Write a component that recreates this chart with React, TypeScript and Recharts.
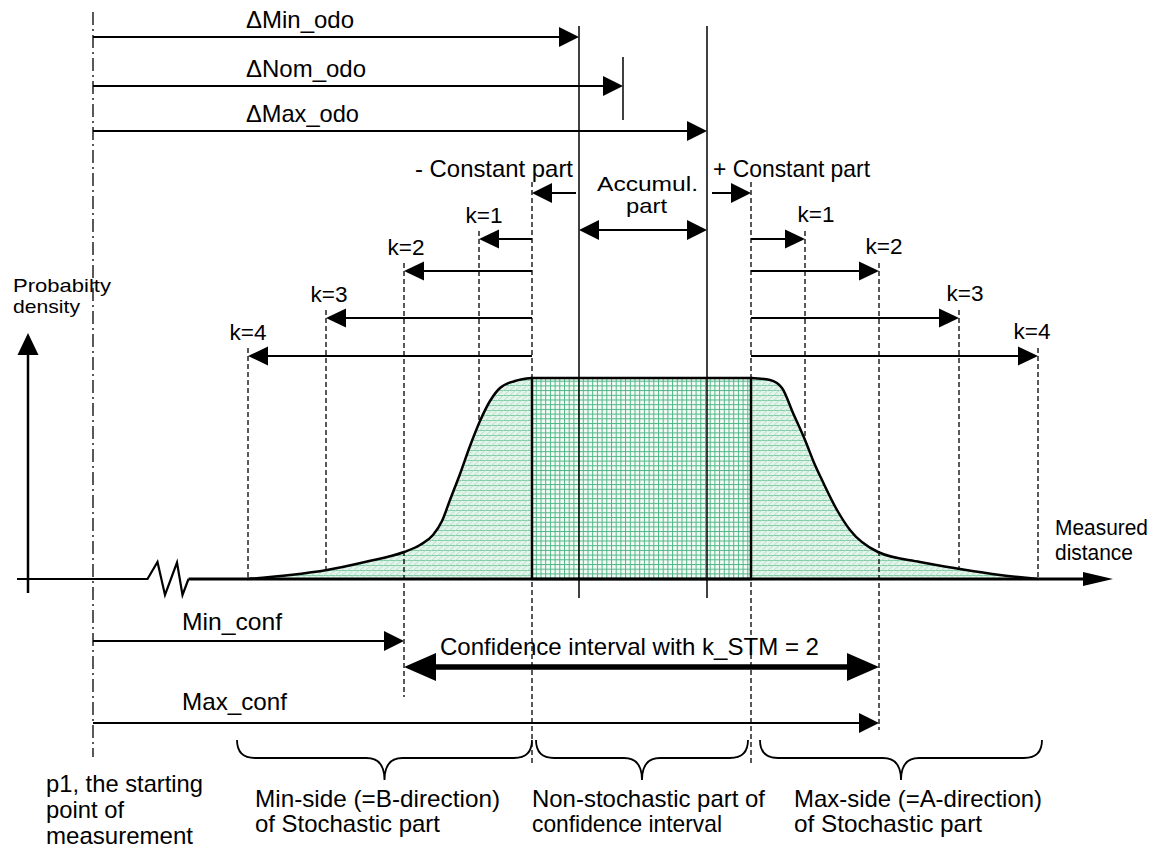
import React from 'react';
import { ComposedChart, Area, Line, XAxis, YAxis, ReferenceLine, ReferenceArea, ReferenceDot } from 'recharts';

const W = 1155;
const H = 850;
const FONT = '"Liberation Sans", Arial, Helvetica, sans-serif';

// x = measured distance (p1 = 0), y = probability density (baseline = 0)
const leftTailX = [15.4, 19.7, 23.4, 27.2, 31.1, 32.7, 34.0, 34.9, 35.7, 36.7, 37.7, 38.7, 39.7, 40.7, 42.2, 43.9];
const leftTailY = [0, 0.4, 0.9, 1.7, 2.7, 3.4, 4.4, 5.8, 7.9, 10.5, 13.3, 15.8, 17.8, 19.1, 19.8, 20.1];
const rightTailX = [65.8, 67.7, 68.9, 70.0, 71.2, 72.2, 72.9, 74.4, 75.7, 78.5, 82.7, 86.7, 90.7, 94.5];
const rightTailY = [20.1, 19.9, 19.1, 16.6, 13.9, 11.4, 9.9, 6.9, 4.9, 2.7, 1.7, 1.0, 0.4, 0];

const plateau = 20.1;
const constMin = 43.9;
const constMax = 65.8;

const odoNames = ['ΔMin_odo', 'ΔNom_odo', 'ΔMax_odo'];
const odoValues = [48.6, 53.0, 61.4];
const odoRows = [54.2, 49.3, 44.8];

const kNames = ['k=1', 'k=2', 'k=3', 'k=4'];
const kMinSide = [38.6, 31.1, 23.3, 15.5];
const kMaxSide = [71.2, 78.6, 86.6, 94.5];
const kRows = [34.0, 30.8, 26.1, 22.3];
const kMinFoot = [15.5, -11.8, 0.9, 0];
const kMaxFoot = [13.9, -15.1, 1.0, 0];

const kStm = 2;
const confRows = [-6.2, -8.8, -14.4];

// broken axis: left stub and zigzag break
const breakX = [-7.6, 5.45, 6.45, 7.2, 8.4, 8.95, 9.55];
const breakY = [0, 0, 1.7, -1.6, 1.65, -1.6, 0];

const braceSpans = [[14.4, 43.9], [44.3, 65.5], [66.7, 94.9]];
const braceTexts = [
  ['Min-side (=B-direction)', 'of Stochastic part'],
  ['Non-stochastic part of', 'confidence interval'],
  ['Max-side (=A-direction)', 'of Stochastic part'],
];
const p1Text = ['p1, the starting', 'point of', 'measurement'];

const leftTail = leftTailX.map((x, i) => ({ x, y: leftTailY[i] }));
const rightTail = rightTailX.map((x, i) => ({ x, y: rightTailY[i] }));
const breakLine = breakX.map((x, i) => ({ x, y: breakY[i] }));

// text widths (px) measured on the reference, used as textLength
const odoWidths = [108, 120, 113];
const braceWidths = [[245, 185], [233, 190], [248, 188]];
const p1Widths = [157, 78, 147];
const kShiftMin = [0.5, 0.2, 0.3, 0];
const kShiftMax = [1.1, 0.5, 0.6, -0.6];

type ArrowOpt = { w?: number; head?: number; half?: number; start?: boolean; end?: boolean; dash?: string };

const arrowShape = (o: ArrowOpt) => (p: any) => {
  const { x1, y1, x2, y2 } = p;
  const w = o.w ?? 2;
  const L = o.head ?? 20;
  const h = o.half ?? 10;
  const len = Math.hypot(x2 - x1, y2 - y1) || 1;
  const ux = (x2 - x1) / len;
  const uy = (y2 - y1) / len;
  const head = (tx: number, ty: number, d: number) => {
    const bx = tx - d * ux * L;
    const by = ty - d * uy * L;
    return `${tx},${ty} ${bx - uy * h},${by + ux * h} ${bx + uy * h},${by - ux * h}`;
  };
  const sx = o.start ? x1 + ux * (L - 2) : x1;
  const sy = o.start ? y1 + uy * (L - 2) : y1;
  const ex = o.end ? x2 - ux * (L - 2) : x2;
  const ey = o.end ? y2 - uy * (L - 2) : y2;
  return (
    <g>
      <line x1={sx} y1={sy} x2={ex} y2={ey} stroke="#000" strokeWidth={w} strokeDasharray={o.dash} />
      {o.end && <polygon points={head(x2, y2, 1)} fill="#000" />}
      {o.start && <polygon points={head(x1, y1, -1)} fill="#000" />}
    </g>
  );
};

const braceShape = (p: any) => {
  const xl = Math.min(p.x1, p.x2);
  const xr = Math.max(p.x1, p.x2);
  const top = Math.min(p.y1, p.y2);
  const tip = Math.max(p.y1, p.y2);
  const mid = top + (tip - top) * 0.45;
  const xc = (xl + xr) / 2;
  const r = 18;
  const d = `M${xl},${top} Q${xl},${mid} ${xl + r},${mid} L${xc - r},${mid} Q${xc},${mid} ${xc},${tip} ` +
    `Q${xc},${mid} ${xc + r},${mid} L${xr - r},${mid} Q${xr},${mid} ${xr},${top}`;
  return <path d={d} fill="none" stroke="#000" strokeWidth={1.8} />;
};

const textShape = (t: string, size: number, len?: number, anchor = 'start') => (p: any) => (
  <text x={p.cx} y={p.cy} fontSize={size} fontFamily={FONT} textAnchor={anchor}
    textLength={len} lengthAdjust="spacingAndGlyphs" fill="#000">{t}</text>
);

const seg = (key: string, a: [number, number], b: [number, number], o: ArrowOpt) => (
  <ReferenceLine key={key} segment={[{ x: a[0], y: a[1] }, { x: b[0], y: b[1] }]}
    shape={arrowShape(o)} ifOverflow="visible" zIndex={400} />
);

const label = (key: string, x: number, y: number, t: string, size: number, len?: number, anchor = 'start') => (
  <ReferenceDot key={key} x={x} y={y} r={1} ifOverflow="visible" zIndex={600}
    shape={textShape(t, size, len, anchor)} />
);

export default function App() {
  const lines: React.ReactElement[] = [];
  const texts: React.ReactElement[] = [];

  // p1 dash-dot line and solid odo lines
  lines.push(seg('p1', [0, 56.7], [0, -17.8], { w: 1.3, dash: '13 4 2 4' }));
  lines.push(seg('vmin', [odoValues[0], 55.3], [odoValues[0], -1.9], { w: 1.5 }));
  lines.push(seg('vmax', [odoValues[2], 55.3], [odoValues[2], -1.9], { w: 1.5 }));
  lines.push(seg('vnom', [odoValues[1], 52.2], [odoValues[1], 45.9], { w: 1.5 }));
  odoValues.forEach((v, i) => {
    lines.push(seg(`odo${i}`, [0, odoRows[i]], [v, odoRows[i]], { end: true }));
    texts.push(label(`odoT${i}`, 15.3, odoRows[i] + 0.95, odoNames[i], 24, odoWidths[i]));
  });

  // constant / accumulated part
  lines.push(seg('cl', [odoValues[0] - 0.3, 38.6], [constMin, 38.6], { end: true }));
  lines.push(seg('cr', [odoValues[2] + 0.5, 38.6], [constMax, 38.6], { end: true }));
  lines.push(seg('acc', [odoValues[0], 34.9], [odoValues[2], 34.9], { start: true, end: true }));
  lines.push(seg('dmin', [constMin, 39.7], [constMin, -18.6], { w: 1.3, dash: '5 3' }));
  lines.push(seg('dmax', [constMax, 39.7], [constMax, -18.6], { w: 1.3, dash: '5 3' }));
  texts.push(label('cmT', 32.2, 40.2, '- Constant part', 24, 158));
  texts.push(label('cpT', 62.0, 40.2, '+ Constant part', 24, 157));
  texts.push(label('acT1', 50.4, 38.8, 'Accumul.', 21, 101));
  texts.push(label('acT2', 53.3, 36.6, 'part', 21, 41));

  // k intervals on both sides
  kNames.forEach((k, i) => {
    lines.push(seg(`kl${i}`, [constMin, kRows[i]], [kMinSide[i], kRows[i]], { end: true, half: 9.5 }));
    lines.push(seg(`kr${i}`, [constMax, kRows[i]], [kMaxSide[i], kRows[i]], { end: true, half: 9.5 }));
    lines.push(seg(`kld${i}`, [kMinSide[i], kRows[i] + 0.8], [kMinSide[i], kMinFoot[i]], { w: 1.3, dash: '5 3' }));
    lines.push(seg(`krd${i}`, [kMaxSide[i], kRows[i] + 0.8], [kMaxSide[i], kMaxFoot[i]], { w: 1.3, dash: '5 3' }));
    texts.push(label(`klT${i}`, kMinSide[i] + kShiftMin[i], kRows[i] + 1.65, k, 22, 37, 'middle'));
    texts.push(label(`krT${i}`, kMaxSide[i] + kShiftMax[i], kRows[i] + 1.75, k, 22, 37, 'middle'));
  });

  // axes
  lines.push(seg('axR', [breakX[breakX.length - 1], 0], [102.0, 0], { w: 3, end: true, head: 30, half: 7 }));
  lines.push(seg('axY', [-6.5, -1.4], [-6.5, 24.6], { w: 2.5, end: true, head: 22, half: 10.5 }));
  texts.push(label('pdT1', -8.0, 28.7, 'Probabilty', 19, 98));
  texts.push(label('pdT2', -8.0, 26.6, 'density', 19, 67));
  texts.push(label('mdT1', 96.2, 4.4, 'Measured', 22, 93));
  texts.push(label('mdT2', 96.2, 1.9, 'distance', 22, 78));

  // confidence interval
  const minConf = kMinSide[kStm - 1];
  const maxConf = kMaxSide[kStm - 1];
  lines.push(seg('minc', [0, confRows[0]], [minConf, confRows[0]], { end: true }));
  lines.push(seg('conf', [minConf, confRows[1]], [maxConf, confRows[1]], { w: 5.5, start: true, end: true, head: 32, half: 14 }));
  lines.push(seg('maxc', [0, confRows[2]], [maxConf, confRows[2]], { end: true }));
  texts.push(label('mincT', 8.9, -5.1, 'Min_conf', 24, 100));
  texts.push(label('confT', 34.7, -7.6, `Confidence interval with k_STM = ${kStm}`, 24, 379));
  texts.push(label('maxcT', 8.9, -13.1, 'Max_conf', 24, 105));

  // braces and their captions
  braceSpans.forEach((s, i) => {
    lines.push(
      <ReferenceLine key={`br${i}`} segment={[{ x: s[0], y: -16.1 }, { x: s[1], y: -20.1 }]}
        shape={braceShape} ifOverflow="visible" zIndex={400} />
    );
    braceTexts[i].forEach((t, j) => {
      texts.push(label(`brT${i}${j}`, [16.2, 43.9, 70.1][i], -22.8 - j * 2.5, t, 24, braceWidths[i][j]));
    });
  });
  p1Text.forEach((t, j) => {
    texts.push(label(`p1T${j}`, -4.7, -21.3 - j * 2.6, t, 24, p1Widths[j]));
  });

  return (
    <div style={{ position: 'absolute', left: 0, top: 0, width: W, height: H, background: '#fff' }}>
      <ComposedChart width={W} height={H} margin={{ top: 0, right: 0, bottom: 0, left: 0 }}>
        <defs>
          <pattern id="tailHatch" width="6" height="5" patternUnits="userSpaceOnUse">
            <rect width="6" height="5" fill="#e4f4eb" />
            <line x1="0" y1="0.5" x2="6" y2="0.5" stroke="#86cca8" strokeWidth="1" />
            <line x1="0" y1="5" x2="6" y2="0" stroke="#a6dbc0" strokeWidth="0.8" />
          </pattern>
          <pattern id="gridHatch" width="4.7" height="4.7" patternUnits="userSpaceOnUse">
            <rect width="4.7" height="4.7" fill="#f4fbf7" />
            <line x1="0.5" y1="0" x2="0.5" y2="4.7" stroke="#4fb585" strokeWidth="1" />
            <line x1="0" y1="0.5" x2="4.7" y2="0.5" stroke="#4fb585" strokeWidth="1" />
          </pattern>
        </defs>
        <XAxis type="number" dataKey="x" domain={[-9.3, 106.2]} hide allowDataOverflow />
        <YAxis type="number" domain={[-27.1, 57.9]} hide allowDataOverflow />
        <Area data={leftTail} dataKey="y" type="monotone" baseValue={0} fill="url(#tailHatch)" fillOpacity={1}
          stroke="#000" strokeWidth={2.5} isAnimationActive={false} zIndex={100} activeDot={false} />
        <Area data={rightTail} dataKey="y" type="monotone" baseValue={0} fill="url(#tailHatch)" fillOpacity={1}
          stroke="#000" strokeWidth={2.5} isAnimationActive={false} zIndex={100} activeDot={false} />
        <ReferenceArea x1={constMin} x2={constMax} y1={0} y2={plateau} fill="url(#gridHatch)" fillOpacity={1}
          stroke="#000" strokeWidth={2.5} zIndex={150} />
        <Line data={breakLine} dataKey="y" type="linear" stroke="#000" strokeWidth={2.2} dot={false}
          activeDot={false} strokeLinejoin="miter" isAnimationActive={false} zIndex={400} />
        {lines}
        {texts}
      </ComposedChart>
    </div>
  );
}
